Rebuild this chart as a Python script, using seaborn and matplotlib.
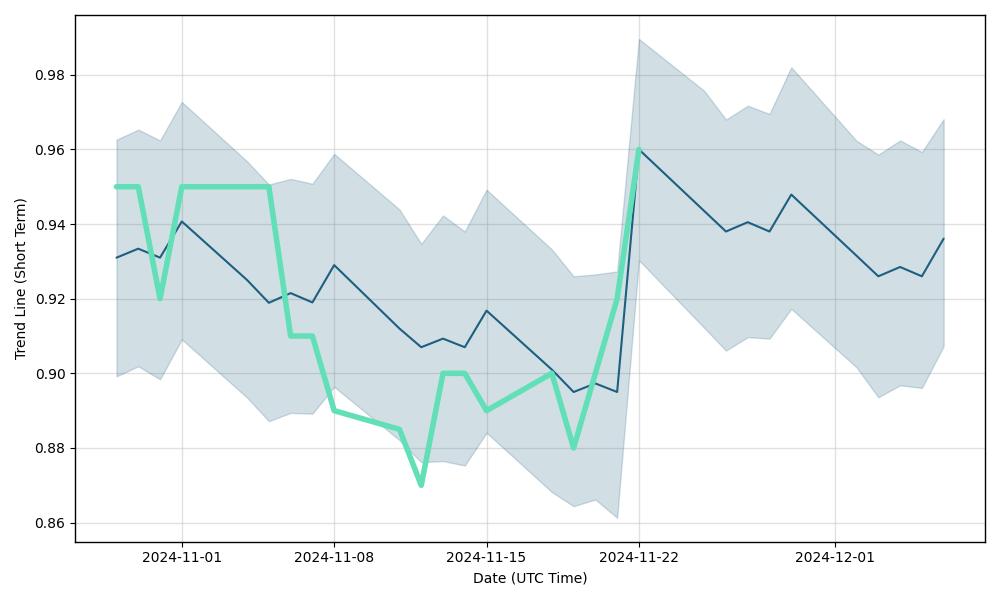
import matplotlib
matplotlib.use("Agg")
import matplotlib.pyplot as plt
import matplotlib.dates as mdates
import seaborn as sns
import pandas as pd
import numpy as np

dates = pd.to_datetime([
    "2024-10-29", "2024-10-30", "2024-10-31", "2024-11-01",
    "2024-11-04", "2024-11-05", "2024-11-06", "2024-11-07", "2024-11-08",
    "2024-11-11", "2024-11-12", "2024-11-13", "2024-11-14", "2024-11-15",
    "2024-11-18", "2024-11-19", "2024-11-20", "2024-11-21", "2024-11-22",
    "2024-11-25", "2024-11-26", "2024-11-27", "2024-11-28", "2024-11-29",
    "2024-12-02", "2024-12-03", "2024-12-04", "2024-12-05", "2024-12-06",
])

trend_mean = [
    0.931, 0.9334, 0.931, 0.9407,
    0.925, 0.9189, 0.9215, 0.919, 0.929,
    0.912, 0.907, 0.9093, 0.907, 0.9168,
    0.901, 0.895, 0.8973, 0.895, 0.960,
    0.9435, 0.938, 0.9405, 0.938, 0.9479,
    0.9315, 0.926, 0.9285, 0.926, 0.9361,
]

trend_upper = [
    0.9626, 0.9653, 0.9624, 0.9727,
    0.9568, 0.9506, 0.9521, 0.9508, 0.9588,
    0.9439, 0.9347, 0.9423, 0.938, 0.9492,
    0.9332, 0.926, 0.9265, 0.9273, 0.9896,
    0.9757, 0.968, 0.9717, 0.9695, 0.982,
    0.9623, 0.9586, 0.9624, 0.9593, 0.9681,
]

trend_lower = [
    0.8992, 0.9019, 0.8984, 0.9091,
    0.8935, 0.8872, 0.8894, 0.8892, 0.8964,
    0.8821, 0.8762, 0.8765, 0.8753, 0.8841,
    0.8682, 0.8644, 0.8662, 0.8613, 0.9303,
    0.9122, 0.9061, 0.9097, 0.9093, 0.9173,
    0.9016, 0.8936, 0.8968, 0.8961, 0.9073,
]

actual = [
    0.95, 0.95, 0.92, 0.95,
    0.95, 0.95, 0.91, 0.91, 0.89,
    0.885, 0.87, 0.90, 0.90, 0.89,
    0.90, 0.88, 0.90, 0.92, 0.96,
    np.nan, np.nan, np.nan, np.nan, np.nan,
    np.nan, np.nan, np.nan, np.nan, np.nan,
]

df = pd.DataFrame({
    "date": dates,
    "mean": trend_mean,
    "upper": trend_upper,
    "lower": trend_lower,
    "actual": actual,
})

sns.set_style("white", rc={
    "text.color": "black", "axes.labelcolor": "black",
    "xtick.color": "black", "ytick.color": "black",
    "axes.edgecolor": "black",
    "xtick.bottom": True, "ytick.left": True,
    "xtick.major.size": 3.5, "ytick.major.size": 3.5,
})
plt.rcParams["font.family"] = ["DejaVu Sans"]

fig, ax = plt.subplots(figsize=(10, 6), dpi=100)

ax.fill_between(df["date"], df["lower"], df["upper"], color="#1d5f80",
                alpha=0.2, linewidth=1)
sns.lineplot(data=df, x="date", y="mean", ax=ax, color="#1d5f80", linewidth=1.5)
sns.lineplot(data=df.dropna(), x="date", y="actual", ax=ax, color="#63dfb8",
             linewidth=4)

ax.grid(True, color="#cccccc", alpha=0.6, linewidth=1)
for s in ax.spines.values():
    s.set_color("black")
    s.set_linewidth(1)
ax.tick_params(axis="both", which="major", labelsize=10)

ax.xaxis.set_major_locator(mdates.AutoDateLocator())
ax.xaxis.set_major_formatter(mdates.DateFormatter("%Y-%m-%d"))

ax.set_xlabel("Date (UTC Time)", fontsize=10)
ax.set_ylabel("Trend Line (Short Term)", fontsize=10)

fig.tight_layout()
fig.savefig("out.png", dpi=100)
